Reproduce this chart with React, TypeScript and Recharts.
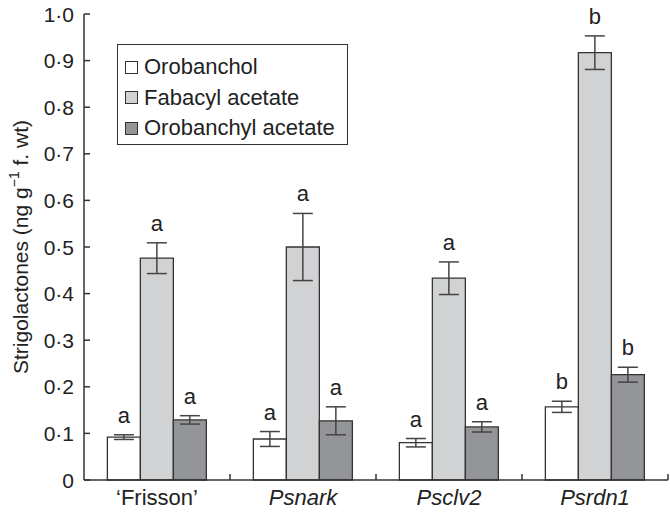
import { BarChart, Bar, XAxis, YAxis, ErrorBar, LabelList, Legend } from 'recharts';

const categories = ['‘Frisson’', 'Psnark', 'Psclv2', 'Psrdn1'];
const orobanchol = [0.092, 0.088, 0.08, 0.157];
const orobancholErr = [0.005, 0.016, 0.009, 0.012];
const fabacyl = [0.476, 0.5, 0.433, 0.917];
const fabacylErr = [0.033, 0.072, 0.035, 0.036];
const orobanchyl = [0.129, 0.127, 0.114, 0.226];
const orobanchylErr = [0.009, 0.03, 0.011, 0.016];
const orobancholLetters = ['a', 'a', 'a', 'b'];
const fabacylLetters = ['a', 'a', 'a', 'b'];
const orobanchylLetters = ['a', 'a', 'a', 'b'];
const yTicks = [0, 0.1, 0.2, 0.3, 0.4, 0.5, 0.6, 0.7, 0.8, 0.9, 1.0];

const data = categories.map((name, i) => ({
  name,
  oro: orobanchol[i],
  oroErr: orobancholErr[i],
  oroLet: orobancholLetters[i],
  fab: fabacyl[i],
  fabErr: fabacylErr[i],
  fabLet: fabacylLetters[i],
  oac: orobanchyl[i],
  oacErr: orobanchylErr[i],
  oacLet: orobanchylLetters[i],
}));

const FONT = '"Liberation Sans", Arial, Helvetica, sans-serif';
const INK = '#333';

const series = [
  { key: 'oro', label: 'Orobanchol', fill: '#ffffff', vals: orobanchol, errs: orobancholErr },
  { key: 'fab', label: 'Fabacyl acetate', fill: '#d1d2d4', vals: fabacyl, errs: fabacylErr },
  { key: 'oac', label: 'Orobanchyl acetate', fill: '#939598', vals: orobanchyl, errs: orobanchylErr },
];

const fmt = (v: number) => (v === 0 ? '0' : v.toFixed(1).replace('.', '·'));

function YTick(props: any) {
  const { x, y, payload } = props;
  return (
    <g>
      <line x1={x} x2={x + 6} y1={y} y2={y} stroke={INK} strokeWidth={1.5} />
      <text x={x - 10} y={y} dy="0.36em" textAnchor="end" fontSize={21} fontFamily={FONT} fill="#222">
        {fmt(payload.value)}
      </text>
    </g>
  );
}

function XTick(props: any) {
  const { x, y, payload, width } = props;
  const half = (width || 584) / categories.length / 2;
  const italic = payload.index !== 0;
  return (
    <g>
      <line x1={x + half} x2={x + half} y1={y} y2={y - 6} stroke={INK} strokeWidth={1.5} />
      <text
        x={x}
        y={y + 25}
        textAnchor="middle"
        fontSize={22}
        fontFamily={FONT}
        fontStyle={italic ? 'italic' : 'normal'}
        fill="#222"
      >
        {payload.value}
      </text>
    </g>
  );
}

function YLabel(props: any) {
  const { viewBox } = props;
  const cx = viewBox.x + 20;
  const cy = viewBox.y + viewBox.height / 2;
  return (
    <text
      x={cx}
      y={cy}
      transform={`rotate(-90, ${cx}, ${cy})`}
      textAnchor="middle"
      dy="0.36em"
      fontSize={21}
      fontFamily={FONT}
      fill="#222"
    >
      Strigolactones (ng g
      <tspan fontSize={14} dy="-0.6em">−1</tspan>
      <tspan dy="0.4em"> f. wt)</tspan>
    </text>
  );
}

function makeLetter(vals: number[], errs: number[]) {
  return (props: any) => {
    const { x, y, width, height, value, index } = props;
    const scale = height / vals[index];
    const top = y - errs[index] * scale;
    return (
      <text x={x + width / 2} y={top - 12} textAnchor="middle" fontSize={22} fontFamily={FONT} fill="#222">
        {value}
      </text>
    );
  };
}

function LegendBox() {
  return (
    <div
      style={{
        width: 231,
        height: 101,
        border: `1.5px solid ${INK}`,
        background: '#fff',
        fontFamily: FONT,
        fontSize: 22,
        color: '#222',
        boxSizing: 'border-box',
        paddingTop: 7,
      }}
    >
      {series.map((s) => (
        <div key={s.key} style={{ display: 'flex', alignItems: 'center', height: 30.5, paddingLeft: 7 }}>
          <span
            style={{
              display: 'inline-block',
              width: 11,
              height: 11,
              background: s.fill,
              border: `1.2px solid ${INK}`,
              marginRight: 6,
            }}
          />
          <span>{s.label}</span>
        </div>
      ))}
    </div>
  );
}

export default function App() {
  return (
    <div style={{ position: 'absolute', left: 0, top: 0, width: 670, height: 513, background: '#fff' }}>
      <BarChart
        width={670}
        height={513}
        data={data}
        margin={{ top: 14, right: 2, bottom: 0, left: 0 }}
        barCategoryGap="16%"
        barGap={0}
      >
        <XAxis
          dataKey="name"
          height={33}
          tickSize={0}
          tickMargin={0}
          tickLine={false}
          axisLine={{ stroke: INK, strokeWidth: 1.5 }}
          tick={<XTick />}
          interval={0}
        />
        <YAxis
          width={84}
          domain={[0, 1]}
          ticks={yTicks}
          tickSize={0}
          tickMargin={0}
          tickLine={false}
          axisLine={{ stroke: INK, strokeWidth: 1.5 }}
          tick={<YTick />}
          interval={0}
          label={<YLabel />}
        />
        <Legend
          verticalAlign="middle"
          align="center"
          layout="vertical"
          content={<LegendBox />}
          wrapperStyle={{ left: 117, top: 44, width: 231 }}
        />
        {series.map((s) => (
          <Bar
            key={s.key}
            dataKey={s.key}
            name={s.label}
            fill={s.fill}
            stroke={INK}
            strokeWidth={1.3}
            isAnimationActive={false}
          >
            <ErrorBar dataKey={`${s.key}Err`} width={10} stroke="#444" strokeWidth={1.5} />
            <LabelList dataKey={`${s.key}Let`} content={makeLetter(s.vals, s.errs)} />
          </Bar>
        ))}
      </BarChart>
    </div>
  );
}
